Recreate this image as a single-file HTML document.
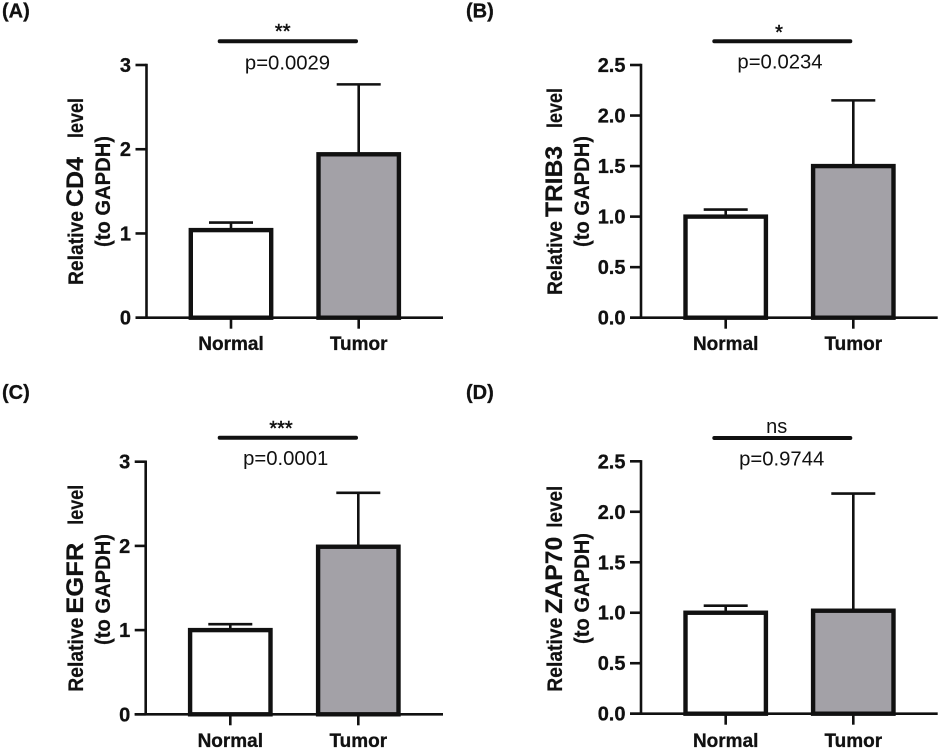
<!DOCTYPE html>
<html>
<head>
<meta charset="utf-8">
<title>Relative expression levels</title>
<style>
html,body{margin:0;padding:0;background:#fff;width:941px;height:751px;overflow:hidden}
svg{display:block;filter:blur(0.35px)}
text{font-family:"Liberation Sans",sans-serif;fill:#111}
</style>
</head>
<body>
<svg id="figure" width="941" height="751" viewBox="0 0 941 751" xmlns="http://www.w3.org/2000/svg"></svg>
<script>
const categories = ['Normal', 'Tumor'];
const panelLetters = ['(A)', '(B)', '(C)', '(D)'];
const geneNames = ['CD4', 'TRIB3', 'EGFR', 'ZAP70'];
const normalMeans = [1.04, 1.0, 1.0, 1.0];
const tumorMeans = [1.94, 1.5, 1.99, 1.02];
const normalErrorTops = [1.13, 1.07, 1.07, 1.07];
const tumorErrorTops = [2.77, 2.15, 2.63, 2.18];
const pValues = ['p=0.0029', 'p=0.0234', 'p=0.0001', 'p=0.9744'];
const significance = ['**', '*', '***', 'ns'];
const integerTicks = [0, 1, 2, 3];
const integerTickLabels = ['0', '1', '2', '3'];
const decimalTicks = [0, 0.5, 1, 1.5, 2, 2.5];
const decimalTickLabels = ['0.0', '0.5', '1.0', '1.5', '2.0', '2.5'];
const panelTicks = [integerTicks, decimalTicks, integerTicks, decimalTicks];
const panelTickLabels = [integerTickLabels, decimalTickLabels, integerTickLabels, decimalTickLabels];

const layouts = [
  {axisX:146.5,y0:317.7,yTop:65,xEnd:443,cx:[231,358.7],letter:[2,17.5],sigX:[217.7,358],sigY:41.3,markX:282.7,markY:38,pX:287.5,pY:69.5,t1:83,t1Y:285,t2:110,t2Y:247,gene:[78,50],level:[147,40],catY:350},
  {axisX:641,y0:317.7,yTop:65,xEnd:937.7,cx:[725.7,853.3],letter:[466,17.5],sigX:[712.3,852.3],sigY:41.3,markX:779,markY:39,pX:780,pY:68.5,t1:562,t1Y:295,t2:589,t2Y:247,gene:[78,71],level:[167,40],catY:350},
  {axisX:145.7,y0:714.3,yTop:461.7,xEnd:443,cx:[230.3,358.3],letter:[2,399],sigX:[217.7,358],sigY:437.7,markX:281,markY:435,pX:285.7,pY:465,t1:83,t1Y:691.7,t2:110,t2Y:645,gene:[78,71],level:[167,40],catY:747},
  {axisX:641,y0:713.7,yTop:461.3,xEnd:937.7,cx:[725.7,853.3],letter:[466,399],sigX:[712.3,852.3],sigY:438,markX:776.7,markY:433,pX:781.7,pY:465.3,t1:562,t1Y:691.7,t2:589,t2Y:644,gene:[78,77],level:[164,42],catY:747}
];

const NS = 'http://www.w3.org/2000/svg';
const svg = document.getElementById('figure');

function make(parent, tag, attrs, name) {
  const el = document.createElementNS(NS, tag);
  for (const k in attrs) el.setAttribute(k, attrs[k]);
  
  
  parent.appendChild(el);
  return el;
}
function line(parent, x1, y1, x2, y2, w, name, cap) {
  return make(parent, 'line', {x1:x1, y1:y1, x2:x2, y2:y2, stroke:'#111', 'stroke-width':w, 'stroke-linecap':cap || 'butt'}, name);
}
function label(parent, x, y, str, size, weight, anchor, name) {
  const t = make(parent, 'text', {x:x, y:y, 'font-size':size, 'font-weight':weight, 'text-anchor':anchor}, name);
  if (weight === 'bold') { t.setAttribute('stroke', '#111'); t.setAttribute('stroke-width', '0.3'); }
  t.textContent = str;
  return t;
}
function vertical(parent, baseX, startY, offset, length, str, size, name) {
  const t = make(parent, 'text', {transform:'translate(' + baseX + ',' + (startY - offset) + ') rotate(-90)', 'font-size':size, 'font-weight':'bold', textLength:length, lengthAdjust:'spacingAndGlyphs', stroke:'#111', 'stroke-width':0.2}, name);
  t.textContent = str;
  return t;
}

panelLetters.forEach(function (letter, i) {
  const L = layouts[i];
  const ticks = panelTicks[i];
  const tickLabels = panelTickLabels[i];
  const yMax = ticks[ticks.length - 1];
  const yScale = function (v) { return L.y0 - (v / yMax) * (L.y0 - L.yTop); };
  const xScale = function (c) { return L.cx[c]; };
  const g = make(svg, 'g', {}, 'panel-' + geneNames[i].toLowerCase());

  label(g, L.letter[0], L.letter[1], letter, 20, 'bold', 'start', 'panel-label');

  const means = [normalMeans[i], tumorMeans[i]];
  const tops = [normalErrorTops[i], tumorErrorTops[i]];
  const fills = ['#ffffff', '#a3a1a7'];
  categories.forEach(function (cat, c) {
    const x = xScale(c);
    line(g, x, yScale(means[c]), x, yScale(tops[c]), 2.6, 'error-bar-' + cat.toLowerCase());
    line(g, x - 22, yScale(tops[c]), x + 22, yScale(tops[c]), 2.6, 'error-cap-' + cat.toLowerCase());
    make(g, 'rect', {x:x - 40.2, y:yScale(means[c]), width:80.4, height:L.y0 - yScale(means[c]), fill:fills[c], stroke:'#111', 'stroke-width':4.4}, 'bar-' + cat.toLowerCase());
    line(g, x, L.y0, x, L.y0 + 11, 2.6, 'x-tick-' + cat.toLowerCase());
    label(g, x, L.catY, cat, 19, 'bold', 'middle', 'x-label-' + cat.toLowerCase());
  });

  line(g, L.axisX, L.yTop - 1.2, L.axisX, L.y0 + 1.2, 2.6, 'y-axis');
  line(g, L.axisX - 11, L.y0, L.xEnd, L.y0, 2.6, 'x-axis');
  ticks.forEach(function (t, k) {
    const y = yScale(t);
    line(g, L.axisX - 11, y, L.axisX, y, 2.6, 'y-tick');
    label(g, L.axisX - 15.5, y + 7, tickLabels[k], 20, 'bold', 'end', 'y-tick-label');
  });

  line(g, L.sigX[0] + 2, L.sigY, L.sigX[1] - 2, L.sigY, 4, 'significance-bar', 'round');
  const mark = label(g, L.markX, L.markY, significance[i], 20, 'normal', 'middle', 'significance-mark');
  if (significance[i] !== 'ns') { mark.setAttribute('stroke', '#111'); mark.setAttribute('stroke-width', '0.5'); }
  label(g, L.pX, L.pY, pValues[i], 20.3, 'normal', 'middle', 'p-value');

  vertical(g, L.t1, L.t1Y, 0, 74, 'Relative', 21, 'y-title-relative');
  vertical(g, L.t1, L.t1Y, L.gene[0], L.gene[1], geneNames[i], 24, 'y-title-gene');
  vertical(g, L.t1, L.t1Y, L.level[0], L.level[1], 'level', 21, 'y-title-level');
  vertical(g, L.t2, L.t2Y, 0, 111, '(to GAPDH)', 21, 'y-axis-subtitle');
});
</script>
</body>
</html>
